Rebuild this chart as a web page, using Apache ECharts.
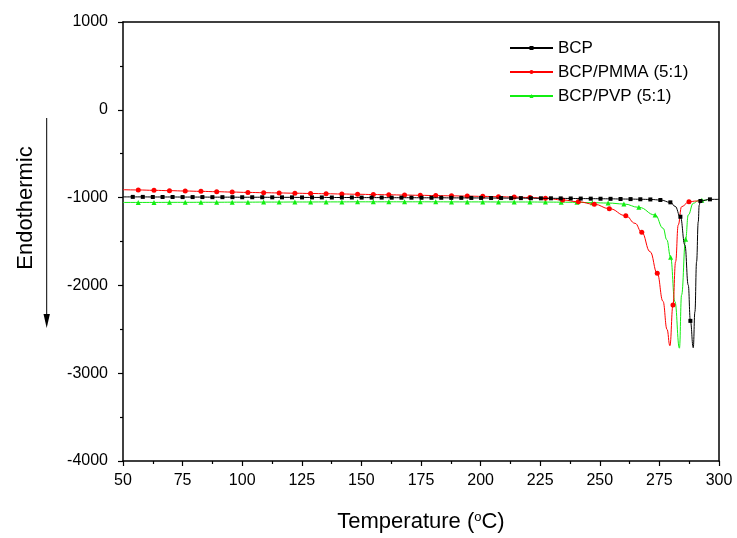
<!DOCTYPE html>
<html>
<head>
<meta charset="utf-8">
<script src="https://cdn.jsdelivr.net/npm/echarts@6/dist/echarts.min.js"></script>
<style>
html,body{margin:0;padding:0;background:#fff;}
#chart{width:737px;height:538px;}
</style>
</head>
<body>
<div id="chart"></div>
<script>
// ---- data ----
const seriesNames = ['BCP', 'BCP/PMMA (5:1)', 'BCP/PVP (5:1)'];
const xTicks = [50, 75, 100, 125, 150, 175, 200, 225, 250, 275, 300];
const yTicks = [-4000, -3000, -2000, -1000, 0, 1000];

// BCP: points carrying markers
const bcpMarkX = [54.1, 58.3, 62.5, 66.6, 70.8, 75.0, 79.2, 83.3, 87.5, 91.7, 95.9, 100.0, 104.2, 108.4, 112.6, 116.7, 120.9, 125.1, 129.3, 133.4, 137.6, 141.8, 146.0, 150.1, 154.3, 158.5, 162.7, 166.8, 171.0, 175.2, 179.4, 183.5, 187.7, 191.9, 196.1, 200.2, 204.4, 208.6, 212.8, 216.9, 221.1, 225.3, 229.5, 233.6, 237.8, 242.0, 246.2, 250.3, 254.5, 258.7, 262.9, 267.0, 271.2, 275.4, 279.6, 283.8, 288.0, 292.2, 296.2];
const bcpMarkY = [-992, -992, -993, -993, -993, -994, -994, -994, -995, -995, -995, -996, -996, -996, -997, -997, -997, -998, -998, -998, -999, -999, -999, -1000, -1000, -1000, -1001, -1001, -1001, -1002, -1002, -1002, -1003, -1003, -1004, -1004, -1005, -1005, -1006, -1006, -1007, -1008, -1008, -1009, -1010, -1011, -1012, -1013, -1014, -1016, -1017, -1019, -1021, -1027, -1054, -1218, -2404, -1039, -1020];
// BCP: extra curve points without markers
const bcpLineX = [50, 281.6, 285.7, 287.1, 289.2, 289.9, 290.6, 291.3, 291.7, 300];
const bcpLineY = [-992, -1100, -1540, -1996, -2710, -2300, -1730, -1275, -1084, -1020];

// BCP/PMMA (5:1)
const pmmaMarkX = [56.4, 63.0, 69.5, 76.1, 82.7, 89.3, 95.8, 102.4, 109.0, 115.5, 122.1, 128.7, 135.2, 141.8, 148.4, 155.0, 161.5, 168.1, 174.7, 181.2, 187.8, 194.4, 200.9, 207.5, 214.1, 220.7, 227.2, 234.4, 241.0, 247.7, 254.0, 260.9, 267.6, 274.1, 280.7, 287.4];
const pmmaMarkY = [-913, -917, -921, -925, -929, -933, -937, -941, -944, -947, -950, -953, -956, -959, -962, -965, -968, -971, -974, -977, -980, -983, -986, -990, -994, -999, -1007, -1027, -1048, -1076, -1126, -1206, -1395, -1862, -2223, -1047];
const pmmaLineX = [50, 264.8, 271.1, 276.5, 278.2, 279.4, 281.8, 282.9, 284.3, 290.6, 292.0];
const pmmaLineY = [-910, -1293, -1616, -2180, -2500, -2687, -1730, -1312, -1104, -1039, -1038];

// BCP/PVP (5:1)
const pvpMarkX = [56.4, 63.0, 69.5, 76.1, 82.7, 89.3, 95.8, 102.4, 109.0, 115.5, 122.1, 128.7, 135.2, 141.8, 148.4, 155.0, 161.5, 168.1, 174.7, 181.2, 187.8, 194.4, 200.9, 207.5, 214.1, 220.7, 227.2, 233.8, 240.4, 246.9, 253.5, 260.1, 266.4, 273.2, 279.7, 286.0, 292.8];
const pvpMarkY = [-1055, -1055, -1054, -1054, -1053, -1053, -1052, -1052, -1051, -1051, -1050, -1050, -1049, -1049, -1048, -1048, -1048, -1048, -1048, -1048, -1049, -1049, -1049, -1050, -1050, -1050, -1051, -1052, -1054, -1058, -1062, -1073, -1111, -1198, -1680, -1475, -1030];
const pvpLineX = [50, 276.6, 278.1, 281.5, 283.4, 284.3, 287.1, 289.2, 291.3, 295.0];
const pvpLineY = [-1055, -1350, -1480, -2185, -2715, -2109, -1198, -1065, -1035, -1030];

// ---- build series data (markers on marker points only) ----
function build(markX, markY, lineX, lineY) {
  const pts = [];
  markX.forEach((x, i) => pts.push({ value: [x, markY[i]] }));
  lineX.forEach((x, i) => pts.push({ value: [x, lineY[i]], symbol: 'none' }));
  pts.sort((a, b) => a.value[0] - b.value[0]);
  return pts;
}

const FONT = "'Liberation Sans', Arial, sans-serif";
const chart = echarts.init(document.getElementById('chart'), null, { renderer: 'canvas' });

const axisLineStyle = { show: true, onZero: false, lineStyle: { color: '#000', width: 1.5 } };
const plain = v => String(v);

const option = {
  backgroundColor: '#fff',
  animation: false,
  grid: { left: 123, right: 18, top: 22, bottom: 77 },
  legend: {
    orient: 'vertical',
    left: 509,
    top: 39,
    padding: 0,
    itemWidth: 43,
    itemHeight: 5,
    itemGap: 6,
    data: seriesNames,
    textStyle: { fontFamily: FONT, fontSize: 17, color: '#000', lineHeight: 18 }
  },
  xAxis: [{
    type: 'value',
    min: xTicks[0],
    max: xTicks[xTicks.length - 1],
    interval: 25,
    axisLine: axisLineStyle,
    splitLine: { show: false },
    axisTick: { show: true, inside: false, length: 5, lineStyle: { color: '#000', width: 1.2 } },
    minorTick: { show: true, splitNumber: 2, length: 3, lineStyle: { color: '#000', width: 1.2 } },
    axisLabel: { fontFamily: FONT, fontSize: 16, color: '#000', margin: 12, formatter: plain },
    name: 'Temperature ({sup|o}C)',
    nameLocation: 'middle',
    nameGap: 50,
    nameTextStyle: {
      fontFamily: FONT, fontSize: 22, color: '#000',
      rich: { sup: { fontFamily: FONT, fontSize: 13, color: '#000', verticalAlign: 'bottom', padding: [0, 0, 9, 0] } }
    }
  }, {
    type: 'value',
    position: 'top',
    min: xTicks[0],
    max: xTicks[xTicks.length - 1],
    axisLine: axisLineStyle,
    splitLine: { show: false },
    axisTick: { show: false },
    axisLabel: { show: false }
  }],
  yAxis: [{
    type: 'value',
    min: yTicks[0],
    max: yTicks[yTicks.length - 1],
    interval: 1000,
    axisLine: axisLineStyle,
    splitLine: { show: false },
    axisTick: { show: true, inside: false, length: 5, lineStyle: { color: '#000', width: 1.2 } },
    minorTick: { show: true, splitNumber: 2, length: 3, lineStyle: { color: '#000', width: 1.2 } },
    axisLabel: { fontFamily: FONT, fontSize: 16, color: '#000', margin: 15, formatter: plain }
  }, {
    type: 'value',
    position: 'right',
    min: yTicks[0],
    max: yTicks[yTicks.length - 1],
    axisLine: axisLineStyle,
    splitLine: { show: false },
    axisTick: { show: false },
    axisLabel: { show: false }
  }],
  graphic: [
    {
      type: 'text',
      x: 26, y: 208,
      rotation: Math.PI / 2,
      style: { text: 'Endothermic', font: "22px 'Liberation Sans', Arial, sans-serif", fill: '#000', align: 'center', verticalAlign: 'middle' }
    },
    {
      type: 'line',
      shape: { x1: 46.7, y1: 118, x2: 46.7, y2: 318 },
      style: { stroke: '#000', lineWidth: 1 }
    },
    {
      type: 'polygon',
      shape: { points: [[43.5, 314], [49.9, 314], [46.7, 328]] },
      style: { fill: '#000' }
    }
  ],
  series: [
    {
      name: seriesNames[0], type: 'line', xAxisIndex: 0, yAxisIndex: 0,
      data: build(bcpMarkX, bcpMarkY, bcpLineX, bcpLineY),
      smooth: 0.45, smoothMonotone: 'x', showAllSymbol: true,
      symbol: 'rect', symbolSize: 4,
      lineStyle: { color: '#000', width: 1 }, itemStyle: { color: '#000' }, z: 4
    },
    {
      name: seriesNames[1], type: 'line', xAxisIndex: 0, yAxisIndex: 0,
      data: build(pmmaMarkX, pmmaMarkY, pmmaLineX, pmmaLineY),
      smooth: 0.45, smoothMonotone: 'x', showAllSymbol: true,
      symbol: 'circle', symbolSize: 5,
      lineStyle: { color: '#ff0000', width: 1 }, itemStyle: { color: '#ff0000' }, z: 3
    },
    {
      name: seriesNames[2], type: 'line', xAxisIndex: 0, yAxisIndex: 0,
      data: build(pvpMarkX, pvpMarkY, pvpLineX, pvpLineY),
      smooth: 0.45, smoothMonotone: 'x', showAllSymbol: true,
      symbol: 'triangle', symbolSize: 5,
      lineStyle: { color: '#11ee11', width: 1 }, itemStyle: { color: '#11ee11' }, z: 2
    }
  ]
};
chart.setOption(option);
</script>
</body>
</html>
